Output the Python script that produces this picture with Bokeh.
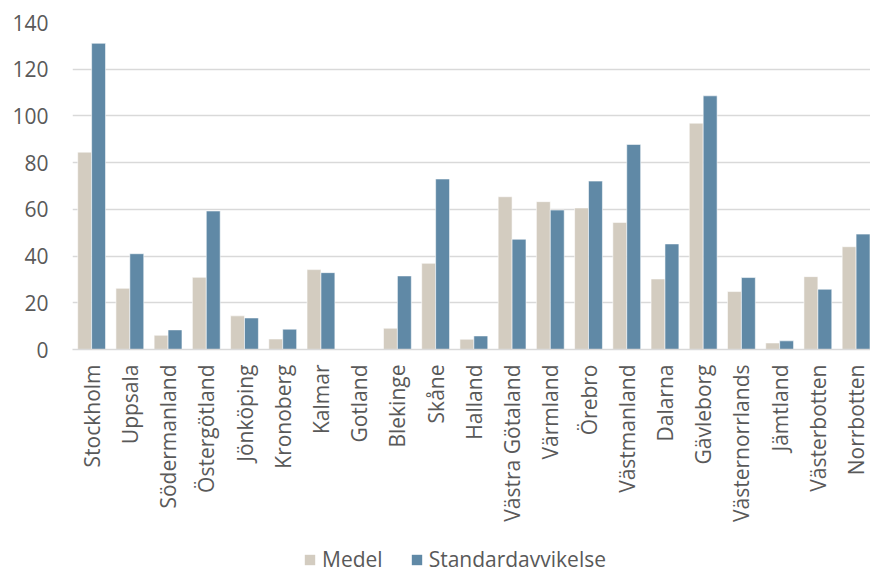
from bokeh.plotting import figure
from bokeh.models import ColumnDataSource, Range1d, FixedTicker, Legend, LegendItem
from bokeh.layouts import column
from bokeh.embed import file_html
from bokeh.resources import INLINE
import math

lan = ["Stockholm", "Uppsala", "Södermanland", "Östergötland", "Jönköping",
       "Kronoberg", "Kalmar", "Gotland", "Blekinge", "Skåne", "Halland",
       "Västra Götaland", "Värmland", "Örebro", "Västmanland", "Dalarna",
       "Gävleborg", "Västernorrlands", "Jämtland", "Västerbotten", "Norrbotten"]

medel = [84.5, 26.2, 6.1, 30.9, 14.4, 4.5, 34.2, 0.0, 9.1, 36.9, 4.4,
         65.4, 63.3, 60.6, 54.4, 30.2, 96.9, 24.8, 2.8, 31.2, 44.0]

standardavvikelse = [131.1, 41.0, 8.4, 59.3, 13.5, 8.7, 32.9, 0.0, 31.5, 73.0, 5.8,
                     47.2, 59.7, 72.1, 87.8, 45.2, 108.6, 30.8, 3.7, 25.8, 49.4]

y_ticks = [0, 20, 40, 60, 80, 100, 120, 140]

FONT = "Open Sans"
FS = "21px"
TXT = "#595959"
GRID = "#d9d9d9"
C_MEDEL = "#d3ccc0"
C_STD = "#6089a6"

n = len(lan)
bar_w = 0.364
centers = [i + 0.5 for i in range(n)]

src = ColumnDataSource(dict(
    x_m=[c - bar_w / 2 for c in centers],
    x_s=[c + bar_w / 2 for c in centers],
    medel=medel,
    std=standardavvikelse,
))

LEFT = 72
MAIN_H = 532
p = figure(width=870, height=MAIN_H, output_backend="svg", toolbar_location=None,
           x_range=Range1d(0, 20.877), y_range=Range1d(0, 140),
           min_border_left=LEFT, min_border_right=0, min_border_top=22,
           min_border_bottom=MAIN_H - 349)
p.outline_line_color = None
p.background_fill_color = "white"
p.border_fill_color = "white"

bar_style = dict(line_color="white", line_width=0.8, line_alpha=0.7)
p.vbar(x="x_m", top="medel", width=bar_w, source=src, fill_color=C_MEDEL, **bar_style)
p.vbar(x="x_s", top="std", width=bar_w, source=src, fill_color=C_STD, **bar_style)

# category axis
p.xaxis.ticker = FixedTicker(ticks=centers)
p.xaxis.major_label_overrides = {c: name for c, name in zip(centers, lan)}
p.xaxis.major_label_orientation = math.pi / 2
p.xaxis.major_tick_line_color = None
p.xaxis.major_tick_out = 0
p.xaxis.major_tick_in = 0
p.xaxis.minor_tick_line_color = None
p.xaxis.axis_line_color = GRID
p.xaxis.axis_line_width = 1.5
p.xaxis.major_label_standoff = 15
p.xaxis.major_label_text_font = FONT
p.xaxis.major_label_text_font_size = FS
p.xaxis.major_label_text_color = TXT

# value axis
p.yaxis.ticker = FixedTicker(ticks=y_ticks)
p.yaxis.axis_line_color = None
p.yaxis.major_tick_line_color = None
p.yaxis.minor_tick_line_color = None
p.yaxis.major_tick_out = 0
p.yaxis.major_tick_in = 0
p.yaxis.major_label_standoff = 24
p.yaxis.major_label_text_font = FONT
p.yaxis.major_label_text_font_size = FS
p.yaxis.major_label_text_color = TXT

p.xgrid.grid_line_color = None
p.ygrid.grid_line_color = GRID
p.ygrid.grid_line_width = 1.5

# legend strip underneath the chart
LEG_H = 572 - MAIN_H
leg = figure(width=870, height=LEG_H, output_backend="svg", toolbar_location=None,
             x_range=Range1d(0, 1), y_range=Range1d(0, 1),
             min_border_left=LEFT, min_border_right=0, min_border_top=0,
             min_border_bottom=0)
leg.axis.visible = False
leg.grid.visible = False
leg.outline_line_color = None
# zero-height stand-ins that only carry the legend swatch styles
r_m = leg.vbar(x=[-5], top=[0], bottom=[0], width=0.1, fill_color=C_MEDEL, line_color=None)
r_s = leg.vbar(x=[-5], top=[0], bottom=[0], width=0.1, fill_color=C_STD, line_color=None)

legend = Legend(items=[LegendItem(label="Medel", renderers=[r_m]),
                       LegendItem(label="Standardavvikelse", renderers=[r_s])],
                location=(303 - LEFT, -1), orientation="horizontal",
                glyph_width=13, glyph_height=13, label_standoff=6, spacing=27,
                padding=0, margin=0, border_line_color=None,
                background_fill_alpha=0,
                label_text_font=FONT, label_text_font_size=FS,
                label_text_color=TXT)
leg.add_layout(legend, "center")

layout = column(p, leg, spacing=0)
open("out.html", "w").write(file_html(layout, INLINE))
